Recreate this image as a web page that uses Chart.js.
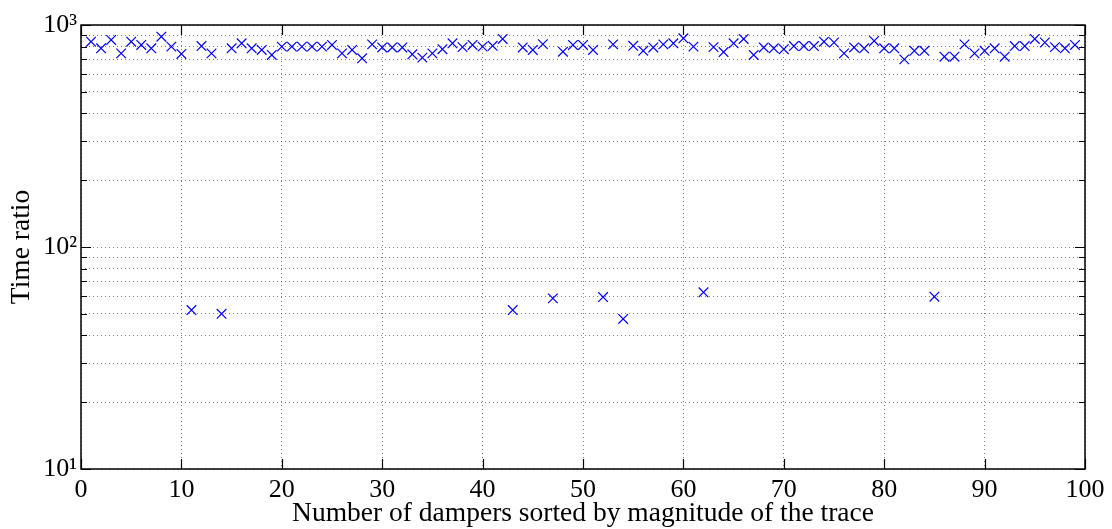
<!DOCTYPE html>
<html>
<head>
<meta charset="utf-8">
<script src="https://cdn.jsdelivr.net/npm/chart.js@4/dist/chart.umd.min.js"></script>
<style>
    body { margin: 0; background: #fff; }
    #wrap { width: 1112px; height: 529px; position: relative; }
</style>
</head>
<body>
<div id="wrap"><canvas id="ratioChart"></canvas></div>
<script>
/* damper index (sorted by magnitude of the trace) */
var damperIndex = [1, 2, 3, 4, 5, 6, 7, 8, 9, 10, 11, 12, 13, 14, 15, 16, 17, 18, 19, 20,
    21, 22, 23, 24, 25, 26, 27, 28, 29, 30, 31, 32, 33, 34, 35, 36, 37, 38, 39, 40,
    41, 42, 43, 44, 45, 46, 47, 48, 49, 50, 51, 52, 53, 54, 55, 56, 57, 58, 59, 60,
    61, 62, 63, 64, 65, 66, 67, 68, 69, 70, 71, 72, 73, 74, 75, 76, 77, 78, 79, 80,
    81, 82, 83, 84, 85, 86, 87, 88, 89, 90, 91, 92, 93, 94, 95, 96, 97, 98, 99];
/* time ratio per damper */
var timeRatio = [841, 785, 856, 745, 841, 813, 785, 886, 799, 741,
    52, 804, 745, 50, 785, 827, 785, 772, 733, 799,
    799, 799, 799, 799, 813, 745, 772, 708, 818, 792,
    792, 792, 738, 713, 745, 778, 827, 795, 813, 799,
    806, 865, 52, 792, 772, 820, 58.7, 758, 813, 813,
    772, 59.5, 818, 47.4, 806, 765, 792, 818, 827, 871,
    799, 62.5, 795, 755, 827, 865, 733, 792, 785, 778,
    804, 804, 804, 841, 834, 745, 792, 785, 848, 785,
    785, 700, 765, 765, 59.7, 720, 720, 818, 745, 765,
    785, 720, 804, 804, 865, 834, 795, 785, 813];
var xTicks = [0, 10, 20, 30, 40, 50, 60, 70, 80, 90, 100];
var yTicks = [10, 20, 30, 40, 50, 60, 70, 80, 90, 100, 200, 300, 400, 500, 600, 700, 800, 900, 1000];
var yLabels = { 10: '10\u00b9', 100: '10\u00b2', 1000: '10\u00b3' };

var points = [];
for (var i = 0; i < damperIndex.length; i++) {
    points.push({ x: damperIndex[i], y: timeRatio[i] });
}

var serif = '"Liberation Serif", "DejaVu Serif", serif';

/* box + inward ticks like the matlab plot */
var boxTicks = {
    id: 'boxTicks',
    afterDraw: function (chart) {
        var ctx = chart.ctx;
        var a = chart.chartArea;
        var xs = chart.scales.x;
        var ys = chart.scales.y;
        ctx.save();
        ctx.strokeStyle = '#000';
        ctx.lineWidth = 1.2;
        ctx.setLineDash([]);
        ctx.beginPath();
        xTicks.forEach(function (t) {
            var px = Math.round(xs.getPixelForValue(t)) + 0.5;
            ctx.moveTo(px, a.bottom); ctx.lineTo(px, a.bottom - 10);
            ctx.moveTo(px, a.top); ctx.lineTo(px, a.top + 10);
        });
        yTicks.forEach(function (t) {
            var py = Math.round(ys.getPixelForValue(t)) + 0.5;
            var len = yLabels[t] ? 10 : 6;
            ctx.moveTo(a.left, py); ctx.lineTo(a.left + len, py);
            ctx.moveTo(a.right, py); ctx.lineTo(a.right - len, py);
        });
        ctx.stroke();
        ctx.lineWidth = 1.5;
        ctx.strokeRect(a.left, a.top, a.right - a.left, a.bottom - a.top);
        ctx.restore();
    }
};

var chartDiv = document.getElementById('ratioChart');
var myChart = new Chart(chartDiv, {
    type: 'scatter',
    data: {
        datasets: [{
            data: points,
            pointStyle: 'crossRot',
            pointRadius: 6.8,
            pointBorderWidth: 1.2,
            borderColor: '#0000ff',
            backgroundColor: '#0000ff'
        }]
    },
    options: {
        responsive: true,
        maintainAspectRatio: false,
        animation: false,
        layout: { padding: { left: 0, right: 27, top: 25, bottom: 0 } },
        plugins: {
            legend: { display: false },
            tooltip: { enabled: false }
        },
        scales: {
            x: {
                type: 'linear',
                min: 0,
                max: 100,
                afterBuildTicks: function (scale) {
                    scale.ticks = xTicks.map(function (v) { return { value: v }; });
                },
                afterFit: function (scale) { scale.height = 60; },
                grid: { color: 'rgba(0,0,0,0.5)', drawTicks: false, lineWidth: 1 },
                border: { display: false, dash: [1, 3] },
                ticks: {
                    padding: 6,
                    maxRotation: 0,
                    color: '#000',
                    font: { family: serif, size: 26 }
                },
                title: {
                    display: true,
                    text: 'Number of dampers sorted by magnitude of the trace',
                    color: '#000',
                    padding: { top: 0, bottom: -1 },
                    font: { family: serif, size: 27.5 }
                }
            },
            y: {
                type: 'logarithmic',
                min: 10,
                max: 1000,
                afterBuildTicks: function (scale) {
                    scale.ticks = yTicks.map(function (v) { return { value: v, major: !!yLabels[v] }; });
                },
                afterFit: function (scale) { scale.width = 81; },
                grid: { color: 'rgba(0,0,0,0.5)', drawTicks: false, lineWidth: 1 },
                border: { display: false, dash: [1, 3] },
                ticks: {
                    padding: 4,
                    autoSkip: false,
                    color: '#000',
                    font: { family: serif, size: 26 },
                    callback: function (v) { return yLabels[v] || ''; }
                },
                title: {
                    display: true,
                    text: 'Time ratio',
                    color: '#000',
                    padding: { top: 5, bottom: 0 },
                    font: { family: serif, size: 27.5 }
                }
            }
        }
    },
    plugins: [boxTicks]
});
</script>
</body>
</html>
